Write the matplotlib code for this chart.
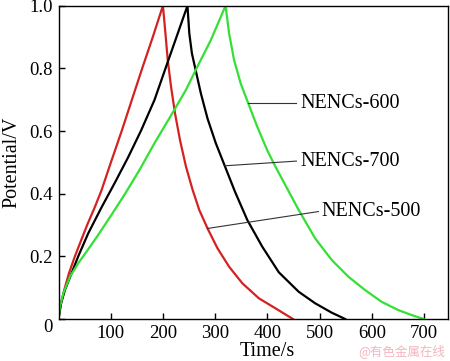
import matplotlib
matplotlib.use("Agg")
import matplotlib.pyplot as plt

# ---- data ----
red_t = [0, 3.5, 11.1, 20, 31.4, 44, 55.6, 69.5, 82.2, 101, 121.6, 140.6, 160.3, 180.6, 200,
         204.8, 209.2, 215.6, 223.2, 232.7, 244.2, 256.9, 269.6, 285.5, 304.4, 326.7, 352.1,
         383.8, 415.6, 449]
red_v = [0, 0.039, 0.093, 0.146, 0.2, 0.254, 0.303, 0.357, 0.41, 0.503, 0.603, 0.7, 0.8, 0.9, 1.0,
         0.912, 0.827, 0.741, 0.656, 0.571, 0.486, 0.412, 0.348, 0.289, 0.226, 0.167, 0.114,
         0.066, 0.034, 0]

black_t = [0, 4.8, 12.4, 25, 37.8, 56.8, 82, 107.6, 133, 158, 183.8, 206, 228.5, 247,
           250.5, 255.5, 261.9, 272.7, 285.4, 301.3, 318.4, 338.1, 361.6, 390.2, 422, 460,
           491.7, 523.5, 549]
black_v = [0, 0.05, 0.093, 0.146, 0.2, 0.273, 0.355, 0.434, 0.515, 0.601, 0.699, 0.805, 0.912, 1.0,
           0.912, 0.848, 0.8, 0.72, 0.64, 0.561, 0.489, 0.406, 0.316, 0.231, 0.149, 0.087,
           0.05, 0.02, 0]

green_t = [0, 2.9, 9.2, 21.9, 37.8, 53.7, 75.9, 101.3, 128, 155.2, 183.8, 220.6, 244, 264.4, 291.7, 320,
           326.7, 336.2, 348.9, 363.5, 380.6, 399.7, 415.6, 437.8, 460, 491.7, 523.5, 555.2,
           587, 618.7, 650.5, 675.9, 690, 700]
green_v = [0, 0.039, 0.082, 0.135, 0.178, 0.215, 0.268, 0.332, 0.401, 0.476, 0.561, 0.664, 0.731, 0.8, 0.89, 1.0,
           0.912, 0.827, 0.752, 0.688, 0.614, 0.539, 0.486, 0.417, 0.348, 0.257, 0.188, 0.135,
           0.0926, 0.055, 0.0287, 0.0128, 0.005, 0]

labels = ["NENCs-600", "NENCs-700", "NENCs-500"]
label_point = [(363.5, 0.688), (318.4, 0.489), (285.5, 0.289)]
label_line_end = [(455.6, 0.688), (455.6, 0.504), (498, 0.343)]
label_text = [(463, 0.688), (463, 0.504), (503, 0.343)]

xticks = [100, 200, 300, 400, 500, 600, 700]
yticks = [0, 0.2, 0.4, 0.6, 0.8, 1.0]
ytick_labels = ["0", "0.2", "0.4", "0.6", "0.8", "1.0"]

plt.rcParams['font.family'] = ['Liberation Serif', 'DejaVu Serif']

fig = plt.figure(figsize=(4.5, 3.61), dpi=100)
ax = fig.add_axes([58.5 / 450, 42 / 361, (448 - 58.5) / 450, (319 - 5.7) / 361])

ax.plot(red_t, red_v, color='#d42222', lw=1.6, solid_joinstyle='round')
ax.plot(black_t, black_v, color='black', lw=1.6, solid_joinstyle='round')
ax.plot(green_t, green_v, color='#33e033', lw=1.6, solid_joinstyle='round')

for lab, p, e, t in zip(labels, label_point, label_line_end, label_text):
    ax.plot([p[0], e[0]], [p[1], e[1]], color='#333333', lw=0.8)
    ax.text(t[0], t[1], lab, fontsize=14.5, va='center', ha='left')

ax.set_xlim(0, 746)
ax.set_ylim(0, 1.0)
ax.set_xticks(xticks)
ax.set_yticks(yticks)
ax.set_yticklabels(ytick_labels)
ax.tick_params(direction='in', length=4, width=1, labelsize=13.5, top=False, right=False)
ax.tick_params(axis='x', pad=4)
ax.tick_params(axis='y', pad=4)
for lbl in ax.get_yticklabels():
    if lbl.get_text() == "0":
        lbl.set_va('top')
for s in ax.spines.values():
    s.set_linewidth(1.0)

ax.set_xlabel("Time/s", fontsize=14.5)
ax.xaxis.set_label_coords(0.535, -0.072)
ax.xaxis.label.set_va('top')
ax.set_ylabel("Potential/V", fontsize=14.5)
ax.yaxis.set_label_coords(-0.12, 0.5)
ax.yaxis.label.set_va('center')

fig.text(0.99, 0.008, "@有色金属在线", color='#f3b5bf', fontsize=9, ha='right', va='bottom',
         family=['Noto Sans CJK SC', 'DejaVu Sans'])

fig.savefig("out.png", dpi=100)
